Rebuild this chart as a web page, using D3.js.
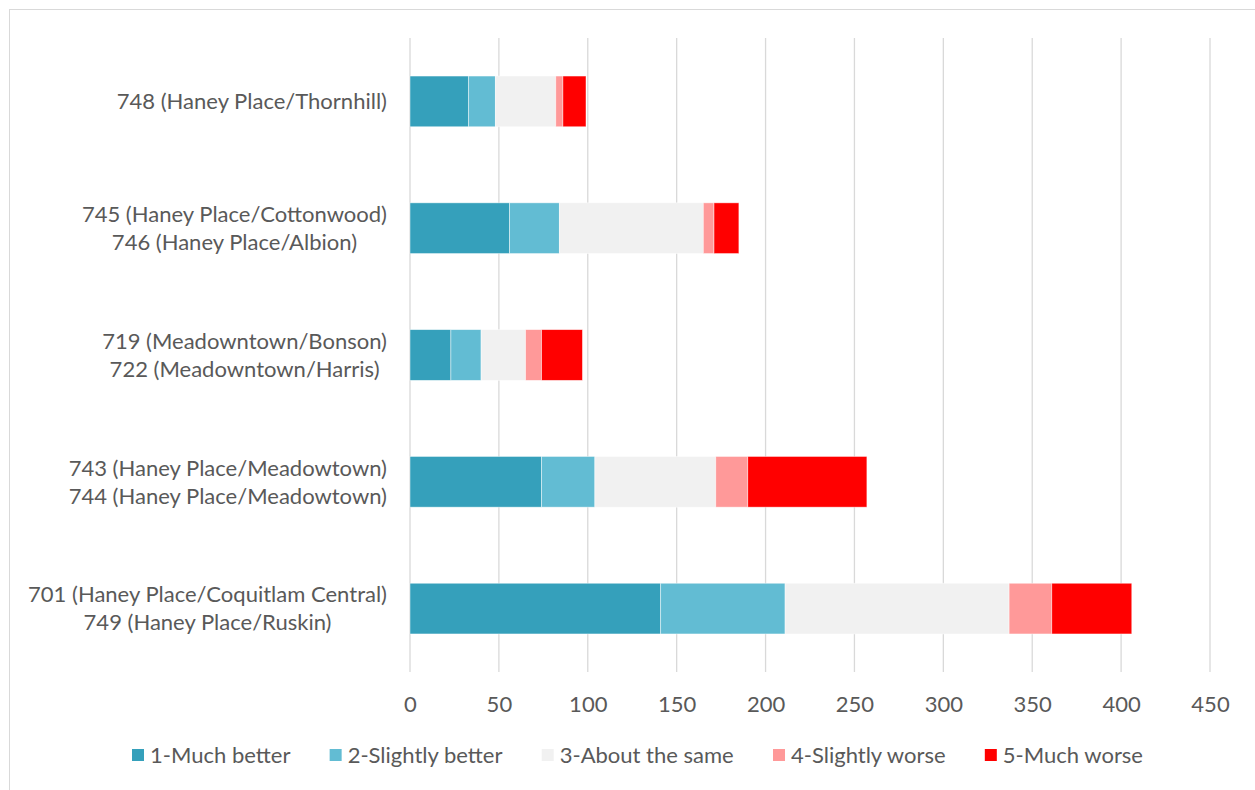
<!DOCTYPE html>
<html><head><meta charset="utf-8">
<script src="https://cdn.jsdelivr.net/npm/d3@7"></script>
<style>body{margin:0;background:#fff;} svg{display:block;} text{font-family:Lato,sans-serif;fill:#595959;}</style>
</head><body><svg id="c" width="1255" height="790"></svg>
<script>
const categories = [
  ["748 (Haney Place/Thornhill)"],
  ["745 (Haney Place/Cottonwood)", "746 (Haney Place/Albion)"],
  ["719 (Meadowntown/Bonson)", "722 (Meadowntown/Harris)"],
  ["743 (Haney Place/Meadowtown)", "744 (Haney Place/Meadowtown)"],
  ["701 (Haney Place/Coquitlam Central)", "749 (Haney Place/Ruskin)"]
];
const seriesNames = ["1-Much better","2-Slightly better","3-About the same","4-Slightly worse","5-Much worse"];
const muchBetter     = [33, 56, 23, 74, 141];
const slightlyBetter = [15, 28, 17, 30, 70];
const aboutSame      = [34, 81, 25, 68, 126];
const slightlyWorse  = [4, 6, 9, 18, 24];
const muchWorse      = [13, 14, 23, 67, 45];
const xTicks = [0,50,100,150,200,250,300,350,400,450];
const colors = ["#35A0BB","#62BCD3","#F1F1F1","#FF9999","#FF0000"];

const seriesVals = [muchBetter, slightlyBetter, aboutSame, slightlyWorse, muchWorse];
const rows = categories.map((c,i)=>{const o={idx:i}; seriesNames.forEach((s,j)=>o[s]=seriesVals[j][i]); return o;});
const stack = d3.stack().keys(seriesNames)(rows);

const svg = d3.select("#c");
svg.append("rect").attr("x",9.5).attr("y",9.5).attr("width",1260).attr("height",800)
  .attr("fill","#fff").attr("stroke","#D9D9D9").attr("stroke-width",1);

const x = d3.scaleLinear().domain([0,450]).range([410,1210]);
const y = d3.scaleBand().domain(d3.range(categories.length)).range([38,672]).paddingInner(0.6).paddingOuter(0.3);

// measure font size so the longest label matches the reference width
const probe = svg.append("text").attr("font-size",20).text(categories[4][0]);
const fs = 20*359/probe.node().getComputedTextLength();
probe.remove();

svg.append("g").selectAll("line").data(xTicks).join("line")
  .attr("x1",d=>x(d)).attr("x2",d=>x(d)).attr("y1",38).attr("y2",672)
  .attr("stroke","#D9D9D9").attr("stroke-width",1.3);

svg.append("g").selectAll("g").data(stack).join("g")
  .attr("fill",(d,i)=>colors[i])
  .selectAll("rect").data(d=>d).join("rect")
  .attr("x",d=>x(d[0])).attr("width",d=>x(d[1])-x(d[0]))
  .attr("y",(d,i)=>y(i)).attr("height",y.bandwidth())
  .attr("stroke","#fff").attr("stroke-width",0.75).attr("stroke-opacity",0.6);

const xa = d3.axisBottom(x).tickValues(xTicks).tickSize(0).tickPadding(0);
const gx = svg.append("g").attr("transform","translate(0,704)").call(xa);
gx.select(".domain").remove();
gx.selectAll("text").attr("font-size",fs).attr("fill","#595959").attr("font-family","Lato").attr("dy","0.35em");

const lh = 28;
categories.forEach((lines,i)=>{
  const cy = y(i)+y.bandwidth()/2;
  const g = svg.append("g");
  const ts = lines.map((t,k)=>g.append("text").attr("font-size",fs).attr("text-anchor","middle")
      .attr("y",cy + (k-(lines.length-1)/2)*lh).attr("dy","0.35em").text(t));
  const w = d3.max(ts,t=>t.node().getComputedTextLength());
  ts.forEach(t=>t.attr("x",387 - w/2));
});

const lg = svg.append("g");
let items = seriesNames.map((s,i)=>{
  const g = lg.append("g");
  g.append("rect").attr("x",0).attr("y",-6).attr("width",12).attr("height",12).attr("fill",colors[i]);
  const t = g.append("text").attr("x",18).attr("y",0).attr("dy","0.35em").attr("font-size",fs).text(s);
  return {g, w:18+t.node().getComputedTextLength()};
});
const left = 132, right = 1143;
const gap = (right-left - d3.sum(items,d=>d.w))/(items.length-1);
let cx = left;
items.forEach(it=>{it.g.attr("transform",`translate(${cx},755)`); cx += it.w+gap;});
</script></body></html>
